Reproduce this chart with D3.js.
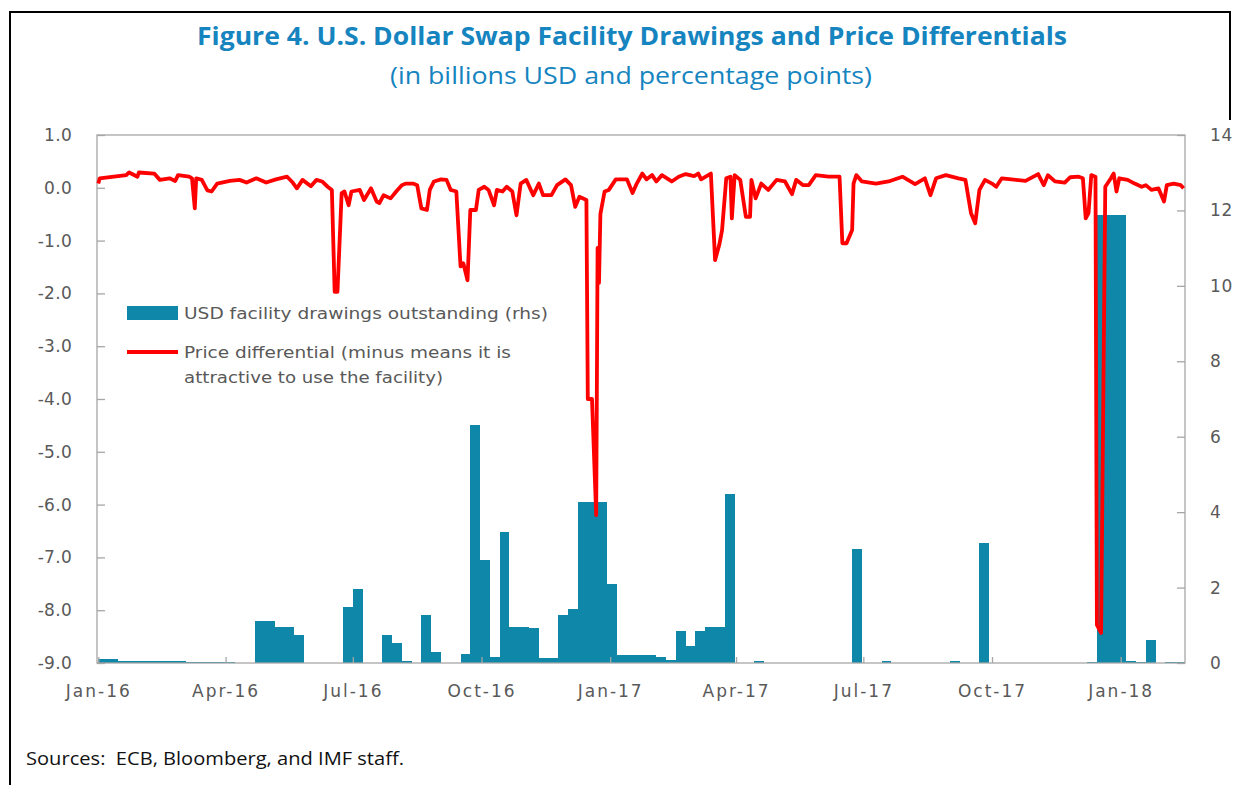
<!DOCTYPE html>
<html>
<head>
<meta charset="utf-8">
<script src="https://cdn.jsdelivr.net/npm/d3@7"></script>
<style>
  body { margin: 0; background: #fff; }
  svg { display: block; }
</style>
</head>
<body>
<div id="chart"></div>
<script>
// weekly drawings (bn USD, rhs), one value per week starting 2016-01-01
const firstWeek = "2016-01-01";
const drawings = [
  0.1, 0.1, 0.05, 0.05, 0.05, 0.05, 0.05, 0.05, 0.05, 0.02,
  0.02, 0.02, 0.02, 0.02, 0, 0, 1.12, 1.12, 0.96, 0.96,
  0.75, 0, 0, 0, 0, 1.48, 1.96, 0, 0, 0.75,
  0.52, 0.04, 0, 1.27, 0.28, 0, 0, 0.24, 6.3, 2.73,
  0.16, 3.48, 0.96, 0.96, 0.92, 0.14, 0.14, 1.27, 1.42, 4.28,
  4.28, 4.28, 2.09, 0.2, 0.2, 0.2, 0.2, 0.17, 0.08, 0.86,
  0.45, 0.86, 0.96, 0.96, 4.48, 0.01, 0, 0.04, 0, 0,
  0, 0, 0, 0, 0, 0, 0, 3.02, 0.01, 0,
  0.04, 0, 0, 0, 0, 0, 0, 0.04, 0, 0,
  3.19, 0, 0, 0, 0, 0, 0, 0, 0, 0,
  0, 0.02, 11.88, 11.88, 11.88, 0.06, 0.02, 0.61, 0, 0.03,
  0.03
];

// price differential (percentage points, lhs)
const diffDates = [
  "2016-01-01", "2016-01-02", "2016-01-21", "2016-01-23", "2016-01-29", "2016-01-30", "2016-02-10", "2016-02-14",
  "2016-02-21", "2016-02-25", "2016-02-27", "2016-03-06", "2016-03-08", "2016-03-10", "2016-03-11", "2016-03-15",
  "2016-03-19", "2016-03-22", "2016-03-26", "2016-04-04", "2016-04-11", "2016-04-16", "2016-04-23", "2016-04-30",
  "2016-05-07", "2016-05-15", "2016-05-19", "2016-05-22", "2016-05-26", "2016-06-01", "2016-06-05", "2016-06-09",
  "2016-06-13", "2016-06-16", "2016-06-18", "2016-06-20", "2016-06-23", "2016-06-25", "2016-06-28", "2016-06-30",
  "2016-07-06", "2016-07-09", "2016-07-14", "2016-07-18", "2016-07-20", "2016-07-23", "2016-07-28", "2016-08-01",
  "2016-08-05", "2016-08-08", "2016-08-13", "2016-08-16", "2016-08-19", "2016-08-23", "2016-08-25", "2016-08-28",
  "2016-09-02", "2016-09-06", "2016-09-09", "2016-09-13", "2016-09-16", "2016-09-18", "2016-09-21", "2016-09-23",
  "2016-09-27", "2016-09-29", "2016-10-03", "2016-10-06", "2016-10-10", "2016-10-12", "2016-10-16", "2016-10-19",
  "2016-10-23", "2016-10-26", "2016-10-29", "2016-11-02", "2016-11-07", "2016-11-11", "2016-11-14", "2016-11-20",
  "2016-11-24", "2016-11-30", "2016-12-04", "2016-12-07", "2016-12-10", "2016-12-15", "2016-12-16", "2016-12-19",
  "2016-12-22", "2016-12-23", "2016-12-24", "2016-12-25", "2016-12-28", "2016-12-31", "2017-01-05", "2017-01-13",
  "2017-01-17", "2017-01-20", "2017-01-24", "2017-01-27", "2017-01-31", "2017-02-03", "2017-02-07", "2017-02-14",
  "2017-02-19", "2017-02-24", "2017-03-02", "2017-03-05", "2017-03-07", "2017-03-14", "2017-03-17", "2017-03-20",
  "2017-03-22", "2017-03-25", "2017-03-28", "2017-03-29", "2017-03-31", "2017-04-04", "2017-04-08", "2017-04-11",
  "2017-04-12", "2017-04-15", "2017-04-19", "2017-04-24", "2017-04-30", "2017-05-06", "2017-05-11", "2017-05-14",
  "2017-05-19", "2017-05-23", "2017-05-28", "2017-06-06", "2017-06-14", "2017-06-16", "2017-06-19", "2017-06-23",
  "2017-06-24", "2017-06-26", "2017-06-30", "2017-07-10", "2017-07-19", "2017-07-29", "2017-08-07", "2017-08-14",
  "2017-08-18", "2017-08-22", "2017-08-29", "2017-09-07", "2017-09-12", "2017-09-16", "2017-09-19", "2017-09-22",
  "2017-09-26", "2017-10-01", "2017-10-04", "2017-10-08", "2017-10-15", "2017-10-25", "2017-11-03", "2017-11-07",
  "2017-11-10", "2017-11-15", "2017-11-22", "2017-11-26", "2017-12-02", "2017-12-05", "2017-12-07", "2017-12-09",
  "2017-12-11", "2017-12-14", "2017-12-15", "2017-12-18", "2017-12-21", "2017-12-25", "2017-12-27", "2017-12-29",
  "2017-12-31", "2018-01-06", "2018-01-11", "2018-01-16", "2018-01-19", "2018-01-23", "2018-01-28", "2018-02-01",
  "2018-02-03", "2018-02-08", "2018-02-13", "2018-02-15"
];
const diffValues = [
  0.08, 0.18, 0.24, 0.29, 0.21, 0.29, 0.27, 0.15,
  0.18, 0.13, 0.24, 0.21, 0.18, -0.39, 0.18, 0.15,
  -0.05, -0.07, 0.08, 0.13, 0.15, 0.1, 0.18, 0.1,
  0.16, 0.21, 0.1, -0.01, 0.15, 0.03, 0.15, 0.12,
  0.02, -0.04, -1.97, -1.97, -0.1, -0.07, -0.33, -0.07,
  -0.04, -0.23, -0.01, -0.26, -0.29, -0.14, -0.2, -0.07,
  0.05, 0.08, 0.08, 0.05, -0.39, -0.42, -0.04, 0.12,
  0.16, 0.15, -0.04, -0.07, -1.49, -1.43, -1.75, -0.42,
  -0.42, -0.04, 0.02, -0.04, -0.33, -0.04, -0.07, 0.02,
  -0.07, -0.52, 0.08, 0.15, -0.14, 0.08, -0.14, -0.14,
  0.05, 0.16, 0.05, -0.36, -0.17, -0.23, -4.0, -4.0,
  -6.2, -1.14, -1.8, -0.5, -0.07, -0.04, 0.16, 0.16,
  -0.1, 0.08, 0.27, 0.16, 0.24, 0.12, 0.24, 0.12,
  0.21, 0.26, 0.22, 0.27, 0.16, 0.27, -1.37, -1.08,
  -0.8, 0.18, 0.21, -0.58, 0.24, 0.15, -0.55, -0.55,
  0.15, -0.2, 0.08, -0.04, 0.15, 0.12, -0.12, 0.15,
  0.05, 0.05, 0.24, 0.21, 0.21, -1.05, -1.05, -0.8,
  0.08, 0.24, 0.12, 0.08, 0.12, 0.21, 0.07, 0.18,
  -0.14, 0.18, 0.24, 0.18, 0.15, -0.48, -0.67, -0.04,
  0.15, 0.08, 0.02, 0.18, 0.16, 0.13, 0.26, 0.05,
  0.24, 0.12, 0.1, 0.2, 0.21, 0.18, -0.58, -0.48,
  0.24, 0.21, -8.28, -8.43, 0.02, 0.18, 0.27, -0.07,
  0.18, 0.15, 0.08, 0.02, 0.05, -0.04, -0.01, -0.26,
  0.05, 0.08, 0.05, -0.01
];

const leftTicks = [1, 0, -1, -2, -3, -4, -5, -6, -7, -8, -9];
const rightTicks = [0, 2, 4, 6, 8, 10, 12, 14];
const xTickDates = ["2016-01-01", "2016-04-01", "2016-07-01", "2016-10-01", "2017-01-01",
                    "2017-04-01", "2017-07-01", "2017-10-01", "2018-01-01"];

const title = "Figure 4. U.S. Dollar Swap Facility Drawings and Price Differentials";
const subtitle = "(in billions USD and percentage points)";
const barLabel = "USD facility drawings outstanding (rhs)";
const lineLabel = ["Price differential (minus means it is", "attractive to use the facility)"];
const source = "Sources:  ECB, Bloomberg, and IMF staff.";

const width = 1238, height = 785;
const plot = { left: 97, right: 1185, top: 135, bottom: 663 };
const barColor = "#0f87a8";
const lineColor = "#ff0000";
const textGrey = "#595959";
const titleBlue = "#1584bf";
const font = "'Open Sans', 'Noto Sans', sans-serif";
const axisFont = "'DejaVu Sans', sans-serif";

const parse = d3.utcParse("%Y-%m-%d");

const svg = d3.select("#chart").append("svg")
    .attr("width", width)
    .attr("height", height);

// outer frame: left side and top, the right edge only runs down past the titles
svg.append("path")
    .attr("d", `M10,785 V12 H1230 V120`)
    .attr("fill", "none")
    .attr("stroke", "#000")
    .attr("stroke-width", 2);

const x = d3.scaleUtc()
    .domain([parse("2016-01-01"), parse("2018-02-16")])
    .range([plot.left + 1.3, plot.right]);
const yL = d3.scaleLinear().domain([-9, 1]).range([plot.bottom, plot.top]);
const yR = d3.scaleLinear().domain([0, 14]).range([plot.bottom, plot.top]);

// ── Bars ─────────────────────────────────────────────
const start = parse(firstWeek);
const bars = drawings.map((v, i) => ({
    t0: d3.utcDay.offset(start, 7 * i),
    t1: d3.utcDay.offset(start, 7 * (i + 1)),
    v
}));

svg.append("g")
    .selectAll("rect")
    .data(bars.filter(d => d.v > 0))
    .join("rect")
    .attr("x", d => x(d.t0))
    .attr("width", d => Math.min(x(d.t1), plot.right) - x(d.t0))
    .attr("y", d => yR(d.v))
    .attr("height", d => yR(0) - yR(d.v))
    .attr("fill", barColor)
    .attr("shape-rendering", "crispEdges");

// ── Axes ─────────────────────────────────────────────
const axisStyle = (g, spacing) => {
    g.select(".domain").remove();
    g.selectAll(".tick line").attr("stroke", "#a6a6a6").attr("stroke-width", 1.3);
    g.selectAll(".tick text")
        .attr("fill", textGrey)
        .attr("font-size", "17px")
        .attr("letter-spacing", spacing)
        .attr("font-family", axisFont);
};

svg.append("g")
    .attr("transform", `translate(${plot.left},0)`)
    .call(d3.axisLeft(yL).tickValues(leftTicks).tickFormat(d => d.toFixed(1))
        .tickSize(-8).tickPadding(25))
    .call(axisStyle, 0.3);

svg.append("g")
    .attr("transform", `translate(${plot.right},0)`)
    .call(d3.axisRight(yR).tickValues(rightTicks).tickSize(-8).tickPadding(25))
    .call(axisStyle, 0.6);

svg.append("g")
    .attr("transform", `translate(0,${plot.bottom})`)
    .call(d3.axisBottom(x).tickValues(xTickDates.map(parse))
        .tickFormat(d3.utcFormat("%b-%y")).tickSize(-6).tickPadding(22))
    .call(axisStyle, 2);

// plot frame
svg.append("rect")
    .attr("x", plot.left)
    .attr("y", plot.top)
    .attr("width", plot.right - plot.left)
    .attr("height", plot.bottom - plot.top)
    .attr("fill", "none")
    .attr("stroke", "#a6a6a6")
    .attr("stroke-width", 1.3);

// ── Line ─────────────────────────────────────────────
const lineData = diffDates.map((d, i) => ({ t: parse(d), v: diffValues[i] }));

svg.append("path")
    .datum(lineData)
    .attr("fill", "none")
    .attr("stroke", lineColor)
    .attr("stroke-width", 3.8)
    .attr("stroke-linejoin", "round")
    .attr("d", d3.line().x(d => x(d.t)).y(d => yL(d.v)));

// ── Legend ───────────────────────────────────────────
const legend = svg.append("g").attr("font-family", axisFont)
    .attr("font-size", "15px").attr("fill", textGrey);

legend.append("rect")
    .attr("x", 127).attr("y", 306).attr("width", 51).attr("height", 14)
    .attr("fill", barColor);
legend.append("text")
    .attr("x", 184).attr("y", 319)
    .attr("textLength", 364).attr("lengthAdjust", "spacingAndGlyphs")
    .text(barLabel);

legend.append("line")
    .attr("x1", 127).attr("x2", 178).attr("y1", 352).attr("y2", 352)
    .attr("stroke", lineColor).attr("stroke-width", 3.8);
legend.append("text")
    .attr("x", 184).attr("y", 358)
    .attr("textLength", 327).attr("lengthAdjust", "spacingAndGlyphs")
    .text(lineLabel[0]);
legend.append("text")
    .attr("x", 184).attr("y", 383)
    .attr("textLength", 259).attr("lengthAdjust", "spacingAndGlyphs")
    .text(lineLabel[1]);

// ── Titles & source ──────────────────────────────────
svg.append("text")
    .attr("x", 632).attr("y", 45)
    .attr("text-anchor", "middle")
    .attr("font-family", font)
    .attr("font-weight", "bold")
    .attr("font-size", "25px")
    .attr("fill", titleBlue)
    .attr("textLength", 870).attr("lengthAdjust", "spacingAndGlyphs")
    .text(title);

svg.append("text")
    .attr("x", 631).attr("y", 84)
    .attr("text-anchor", "middle")
    .attr("font-family", font)
    .attr("font-size", "24px")
    .attr("fill", titleBlue)
    .attr("textLength", 482).attr("lengthAdjust", "spacingAndGlyphs")
    .text(subtitle);

svg.append("text")
    .attr("x", 26).attr("y", 765)
    .attr("font-family", font)
    .attr("font-size", "19px")
    .attr("fill", "#111")
    .style("white-space", "pre")
    .attr("textLength", 378).attr("lengthAdjust", "spacingAndGlyphs")
    .text(source);
</script>
</body>
</html>
